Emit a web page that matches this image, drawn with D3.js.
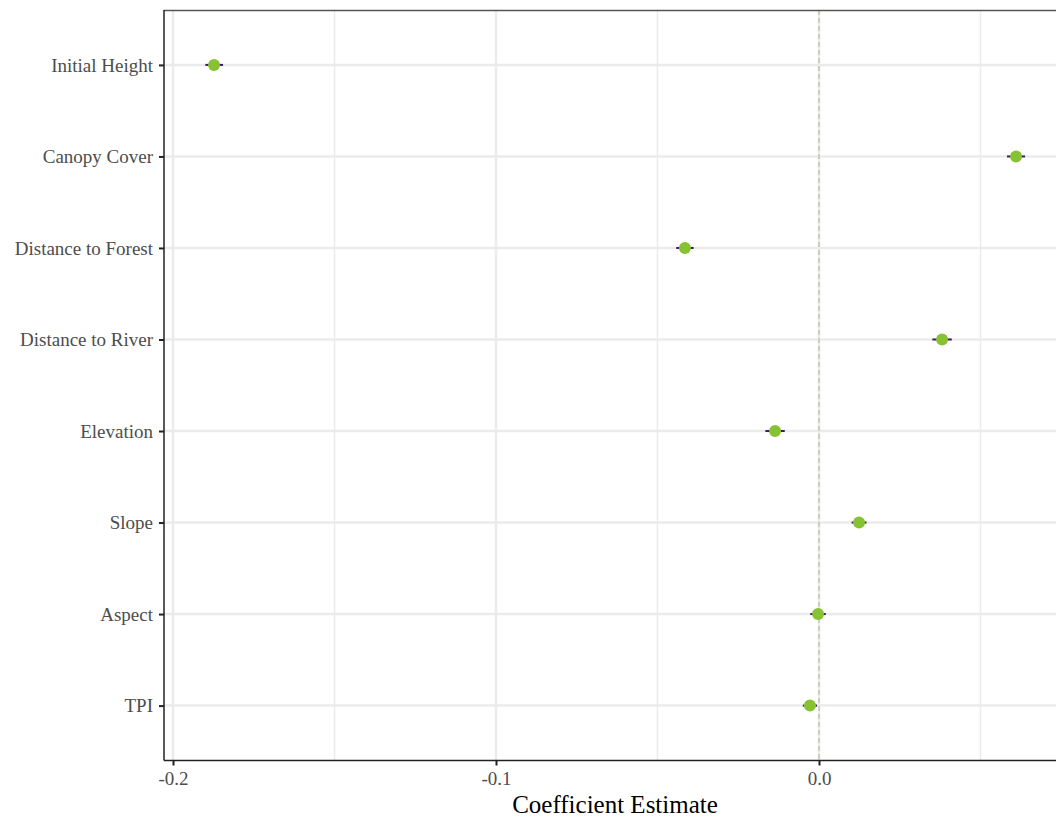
<!DOCTYPE html>
<html>
<head>
<meta charset="utf-8">
<script src="https://cdn.jsdelivr.net/npm/d3@7"></script>
<style>
  html, body { margin: 0; padding: 0; background: #fff; }
  svg { display: block; font-family: "Liberation Serif", "Times New Roman", serif; }
  svg text { font-family: "Liberation Serif", "Times New Roman", serif; }
</style>
</head>
<body>
<svg id="chart" width="1056" height="818"></svg>
<script>
const categories = ["Initial Height", "Canopy Cover", "Distance to Forest", "Distance to River", "Elevation", "Slope", "Aspect", "TPI"];
const estimates = [-0.1873, 0.0610, -0.0415, 0.0381, -0.0136, 0.0124, -0.0003, -0.0028];
const lower = [-0.1900, 0.0582, -0.0442, 0.0351, -0.0166, 0.0101, -0.0027, -0.0050];
const upper = [-0.1845, 0.0638, -0.0388, 0.0411, -0.0106, 0.0147, 0.0021, -0.0006];
const xTicks = [-0.2, -0.1, 0.0];
const xMinorTicks = [-0.15, -0.05, 0.05];
const xTickLabels = ["-0.2", "-0.1", "0.0"];

const svg = d3.select("#chart");
const pL = 164, pT = 10, pR = 1070, pB = 760.5;
const serif = '"Liberation Serif", "Times New Roman", serif';

const x = d3.scaleLinear().domain([-0.20279, 0.07771]).range([pL, pR]);
const y = d3.scalePoint().domain(categories).range([pT, pB]).padding(0.6);

const g = svg.append("g");

// grid
g.selectAll(".minor").data(xMinorTicks).enter().append("line")
  .attr("x1", d => x(d)).attr("x2", d => x(d)).attr("y1", pT).attr("y2", pB)
  .attr("stroke", "#ebebeb").attr("stroke-width", 1.5);
g.selectAll(".major").data(xTicks).enter().append("line")
  .attr("x1", d => x(d)).attr("x2", d => x(d)).attr("y1", pT).attr("y2", pB)
  .attr("stroke", "#ebebeb").attr("stroke-width", 2.5);
g.selectAll(".ymajor").data(categories).enter().append("line")
  .attr("x1", pL).attr("x2", pR).attr("y1", d => y(d)).attr("y2", d => y(d))
  .attr("stroke", "#ebebeb").attr("stroke-width", 2.5);

// zero line
g.append("line")
  .attr("x1", x(0)).attr("x2", x(0)).attr("y1", pT).attr("y2", pB)
  .attr("stroke", "#a3b98a").attr("stroke-width", 1).attr("stroke-dasharray", "5,3");

// panel border (top)
g.append("line").attr("x1", pL).attr("x2", pR).attr("y1", pT + 0.5).attr("y2", pT + 0.5)
  .attr("stroke", "#555").attr("stroke-width", 1.5);

// error bars
const data = categories.map((c, i) => ({c, est: estimates[i], lo: lower[i], hi: upper[i]}));
g.selectAll(".err").data(data).enter().append("line")
  .attr("x1", d => x(d.lo)).attr("x2", d => x(d.hi))
  .attr("y1", d => y(d.c)).attr("y2", d => y(d.c))
  .attr("stroke", "#3d1a5c").attr("stroke-width", 2);

// points
g.selectAll(".pt").data(data).enter().append("circle")
  .attr("cx", d => x(d.est)).attr("cy", d => y(d.c)).attr("r", 6)
  .attr("fill", "#86c232");

// axes
const xAxis = d3.axisBottom(x).tickValues(xTicks).tickFormat((d, i) => xTickLabels[i]).tickSize(5).tickPadding(6);
const xg = svg.append("g").attr("transform", `translate(0,${pB})`).call(xAxis).attr("font-family", serif);
xg.select(".domain").attr("stroke", "#222").attr("stroke-width", 1.5).attr("d", `M${pL},0H${pR}`);
xg.selectAll(".tick line").attr("stroke", "#222").attr("stroke-width", 2);
xg.selectAll(".tick text").attr("fill", "#4d4d4d").style("font-size", "19px");

const yAxis = d3.axisLeft(y).tickSize(5).tickPadding(6);
const yg = svg.append("g").attr("transform", `translate(${pL},0)`).call(yAxis).attr("font-family", serif);
yg.select(".domain").attr("stroke", "#222").attr("stroke-width", 1.5).attr("d", `M0,${pT}V${pB}`);
yg.selectAll(".tick line").attr("stroke", "#222").attr("stroke-width", 2);
yg.selectAll(".tick text").attr("fill", "#4d4d4d").style("font-size", "19px");

// axis title
svg.append("text").attr("x", 615).attr("y", 813).attr("text-anchor", "middle")
  .attr("font-family", serif)
  .style("font-size", "25px").attr("fill", "#000").text("Coefficient Estimate");
</script>
</body>
</html>
